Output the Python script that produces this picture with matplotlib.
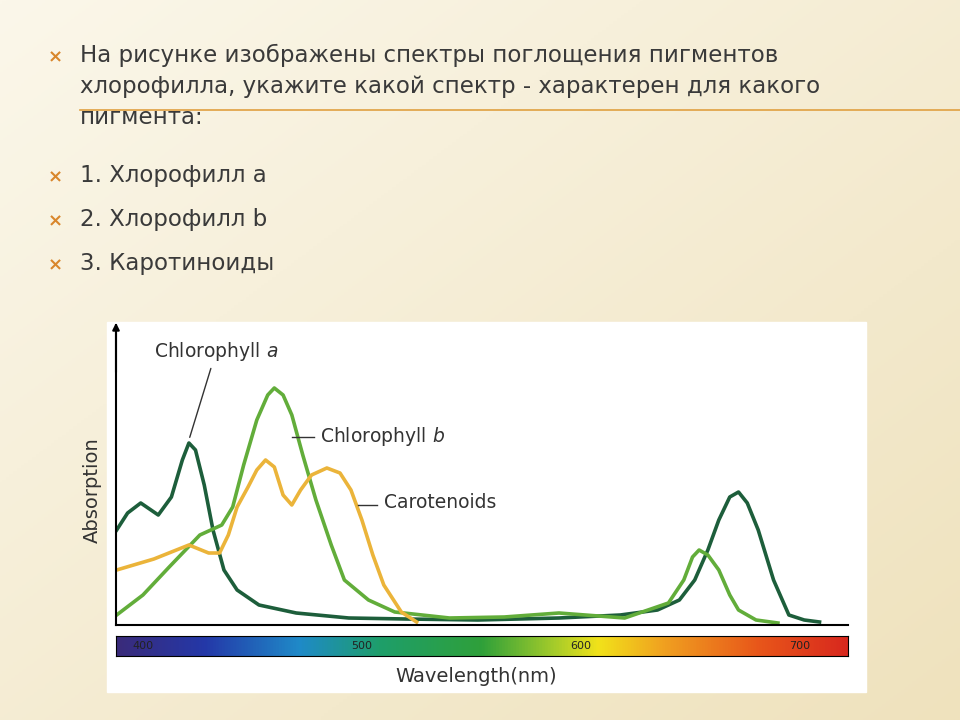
import matplotlib.pyplot as plt
import matplotlib.patches as mpatches
import numpy as np
from matplotlib.colors import LinearSegmentedColormap

# wavelength (nm) / absorption (arbitrary units)
chl_a_nm = [388, 393, 399, 403, 407, 413, 418, 421, 424, 428, 432, 437, 443, 453, 470, 494, 520, 553, 590, 618, 635, 645, 652, 658, 663, 668, 672, 676, 681, 688, 695, 702, 709]
chl_a_ab = [95, 112, 122, 116, 110, 128, 165, 182, 175, 140, 95, 55, 35, 20, 12, 7, 6, 5, 7, 10, 15, 25, 45, 75, 105, 128, 133, 122, 95, 45, 10, 5, 3]
chl_b_nm = [388, 400, 412, 426, 436, 441, 446, 452, 457, 460, 464, 468, 473, 479, 486, 492, 503, 515, 540, 565, 590, 620, 640, 647, 651, 654, 658, 663, 668, 672, 680, 690]
chl_b_ab = [10, 30, 58, 90, 100, 118, 160, 205, 230, 237, 230, 210, 170, 125, 80, 45, 25, 13, 7, 8, 12, 7, 22, 45, 68, 75, 70, 55, 30, 15, 5, 2]
car_nm = [388, 405, 421, 430, 435, 439, 443, 448, 452, 456, 460, 464, 468, 472, 477, 484, 490, 495, 500, 505, 510, 518, 525]
car_ab = [55, 66, 80, 72, 72, 90, 118, 138, 155, 165, 158, 130, 120, 135, 150, 157, 152, 135, 105, 70, 40, 13, 3]

bullets = ["На рисунке изображены спектры поглощения пигментов\nхлорофилла, укажите какой спектр - характерен для какого\nпигмента:",
           "1. Хлорофилл а", "2. Хлорофилл b", "3. Каротиноиды"]
bullet_y = [57, 177, 221, 265]
tick_nm = [400, 500, 600, 700]

W, H = 960, 720
fig = plt.figure(figsize=(9.6, 7.2), dpi=100)
fig.patch.set_facecolor('#f6efd9')

# soft background gradient
bg = fig.add_axes([0, 0, 1, 1], zorder=-10)
g = np.linspace(0, 1, 256)
grad = np.outer(np.linspace(0, 1, 256), np.ones(256)) * 0.5 + np.outer(np.ones(256), g) * 0.5
bg.imshow(grad, cmap=LinearSegmentedColormap.from_list('b', ['#fbf7ea', '#efe2bd']),
          aspect='auto', extent=[0, 1, 0, 1])
bg.axis('off')

def fx(px): return px / W
def fy(py): return 1 - py / H

for txt, y in zip(bullets, bullet_y):
    fig.text(fx(48), fy(y), '×', color='#d9862b', fontsize=13, va='center', fontweight='bold')
    fig.text(fx(80), fy(y), txt, color='#3a3a3a', fontsize=16.5, va='top' if '\n' in txt else 'center',
             linespacing=1.55, fontfamily='DejaVu Sans') if False else None
    fig.text(fx(80), fy(y - 13), txt, color='#3a3a3a', fontsize=16.5, va='top',
             linespacing=1.45)
fig.add_artist(plt.Line2D([fx(80), 1], [fy(110), fy(110)], color='#e0a040', lw=1.2))

# white image box
fig.add_artist(mpatches.Rectangle((fx(107), fy(692)), (866 - 107) / W, (692 - 322) / H,
                                  transform=fig.transFigure, color='white', zorder=0))

x0, x1 = 387.7, 722
ax = fig.add_axes([fx(116), fy(625), (848 - 116) / W, 300 / H])
ax.set_facecolor('none')
ax.plot(chl_a_nm, chl_a_ab, color='#1d5e3b', lw=2.6)
ax.plot(chl_b_nm, chl_b_ab, color='#62ad3a', lw=2.6)
ax.plot(car_nm, car_ab, color='#ebb43a', lw=2.6)
ax.set_xlim(x0, x1)
ax.set_ylim(0, 300)
for s in ['top', 'right']:
    ax.spines[s].set_visible(False)
ax.spines['left'].set_linewidth(1.5)
ax.spines['bottom'].set_linewidth(1.5)
ax.set_xticks([]); ax.set_yticks([])
ax.annotate('', xy=(x0, 305), xytext=(x0, 250), annotation_clip=False,
            arrowprops=dict(arrowstyle='-|>', color='black', lw=1.5))

# labels with leader lines
ax.annotate('Chlorophyll $\\it{a}$', xy=(421, 185), xytext=(405, 268), fontsize=13.5,
            color='#333', arrowprops=dict(arrowstyle='-', color='#333', lw=1), ha='left')
ax.plot([468, 478], [188, 188], color='#333', lw=1)
ax.text(481, 188, 'Chlorophyll $\\it{b}$', fontsize=13.5, color='#333', va='center')
ax.plot([498, 507], [120, 120], color='#333', lw=1)
ax.text(510, 122, 'Carotenoids', fontsize=13.5, color='#333', va='center')

# spectrum bar
cax = fig.add_axes([fx(116), fy(656), (848 - 116) / W, 20 / H])
spec = LinearSegmentedColormap.from_list('s', [(0, '#3a2b7a'), (0.12, '#2438a8'), (0.25, '#1f8ac8'),
                                              (0.36, '#1e9e6a'), (0.5, '#2fa03a'), (0.6, '#a6cc2a'),
                                              (0.66, '#f2e21a'), (0.75, '#f0a020'), (0.88, '#e8561a'),
                                              (1, '#d8281e')])
cax.imshow(np.linspace(0, 1, 512)[None, :], cmap=spec, aspect='auto', extent=[x0, x1, 0, 1])
cax.set_xlim(x0, x1)
cax.set_xticks([]); cax.set_yticks([])
for t in tick_nm:
    cax.text(t, 0.5, str(t), fontsize=8, ha='center', va='center', color='#222')
fig.text(fx(476), fy(676), 'Wavelength(nm)', fontsize=14, ha='center', va='center', color='#333')
fig.text(fx(92), fy(490), 'Absorption', fontsize=14, rotation=90, ha='center', va='center', color='#333')

fig.savefig('out.png', dpi=100)
